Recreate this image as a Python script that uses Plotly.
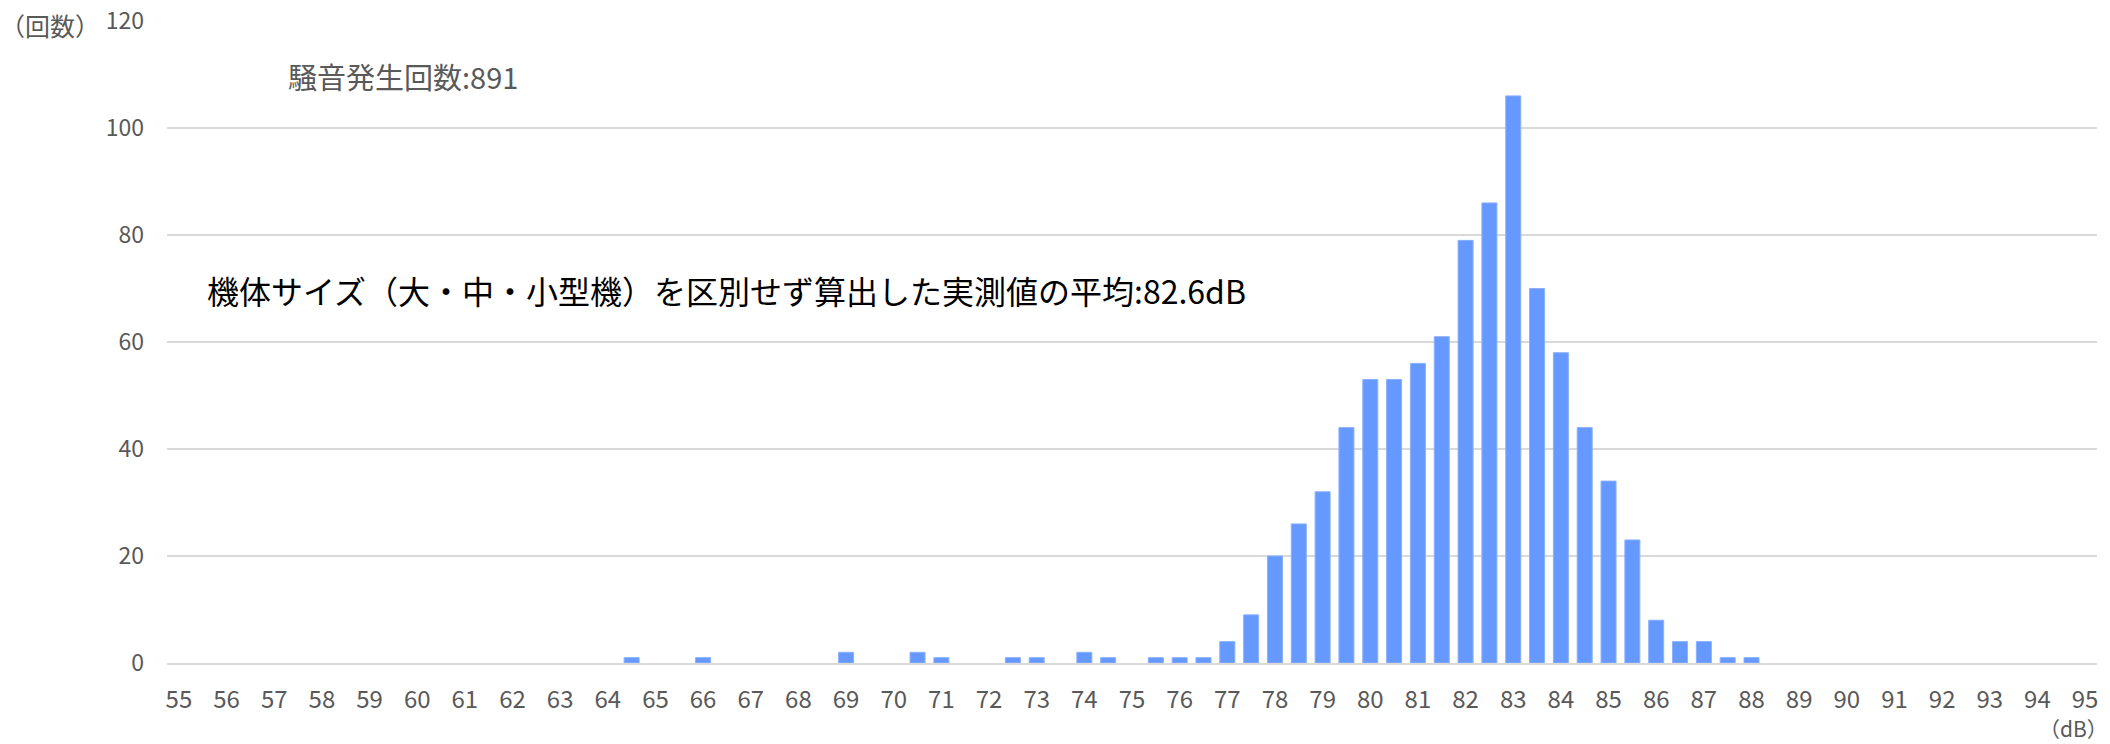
import plotly.graph_objects as go

# Data (noise level in dB, count of occurrences)
db_levels = [64.5, 66, 69, 70.5, 71, 72.5, 73, 74, 74.5, 75.5, 76, 76.5,
             77, 77.5, 78, 78.5, 79, 79.5, 80, 80.5, 81, 81.5, 82, 82.5,
             83, 83.5, 84, 84.5, 85, 85.5, 86, 86.5, 87, 87.5, 88]
counts = [1, 1, 2, 2, 1, 1, 1, 2, 1, 1, 1, 1,
          4, 9, 20, 26, 32, 44, 53, 53, 56, 61, 79, 86,
          106, 70, 58, 44, 34, 23, 8, 4, 4, 1, 1]
x_ticks = list(range(55, 96))
y_ticks = [0, 20, 40, 60, 80, 100, 120]

total_label = "騒音発生回数:891"
mean_label = "機体サイズ（大・中・小型機）を区別せず算出した実測値の平均:82.6dB"
y_unit = "（回数）"
x_unit = "（dB）"

W, H = 2110, 744
L, R, T, B = 167, 13, 21, 81
PW, PH = W - L - R, H - T - B

def px(xp):
    return (xp - L) / PW

def py(yp):
    return 1 - (yp - T) / PH

GREY = "#595959"
FONT = "Noto Sans CJK JP"

fig = go.Figure()
fig.add_trace(go.Bar(
    x=db_levels, y=counts,
    marker=dict(color="#6699FF", line=dict(color="#8AB0FF", width=1)),
    hoverinfo="x+y",
))

fig.update_layout(
    width=W, height=H,
    margin=dict(l=L, r=R, t=T, b=B, autoexpand=False),
    paper_bgcolor="white", plot_bgcolor="white",
    bargap=0.37,
    showlegend=False,
    font=dict(family=FONT, color=GREY, size=23),
)
fig.update_xaxes(
    range=[54.75, 95.25],
    tickmode="array", tickvals=x_ticks, ticktext=[str(v) for v in x_ticks],
    showgrid=False, zeroline=False,
    showline=True, linecolor="#D9D9D9", linewidth=2,
    ticks="", ticklabelstandoff=14,
    tickfont=dict(family=FONT, size=24, color=GREY),
)
fig.update_yaxes(
    range=[0, 120],
    tickmode="array", tickvals=y_ticks,
    showgrid=True, gridcolor="#D9D9D9", gridwidth=1.5,
    zeroline=False, showline=False,
    ticks="", ticklabelstandoff=22,
    tickfont=dict(family=FONT, size=23, color=GREY),
)

fig.add_annotation(
    text=y_unit, xref="paper", yref="paper",
    x=px(-2), y=py(25), xanchor="left", yanchor="middle",
    showarrow=False, font=dict(family=FONT, size=25, color=GREY),
)
fig.add_annotation(
    text=x_unit, xref="paper", yref="paper",
    x=px(2109), y=py(744), xanchor="right", yanchor="bottom",
    showarrow=False, borderpad=0,
    font=dict(family=FONT, size=21, color=GREY),
)
fig.add_annotation(
    text=total_label, xref="paper", yref="paper",
    x=px(286), y=py(76), xanchor="left", yanchor="middle",
    showarrow=False, font=dict(family=FONT, size=29, color=GREY),
)
fig.add_annotation(
    text=mean_label, xref="paper", yref="paper",
    x=px(205), y=py(290), xanchor="left", yanchor="middle",
    showarrow=False, font=dict(family=FONT, size=32, color="black"),
)

fig.write_html("out.html", config={"displayModeBar": False},
               post_script="document.body.style.margin='0';")
